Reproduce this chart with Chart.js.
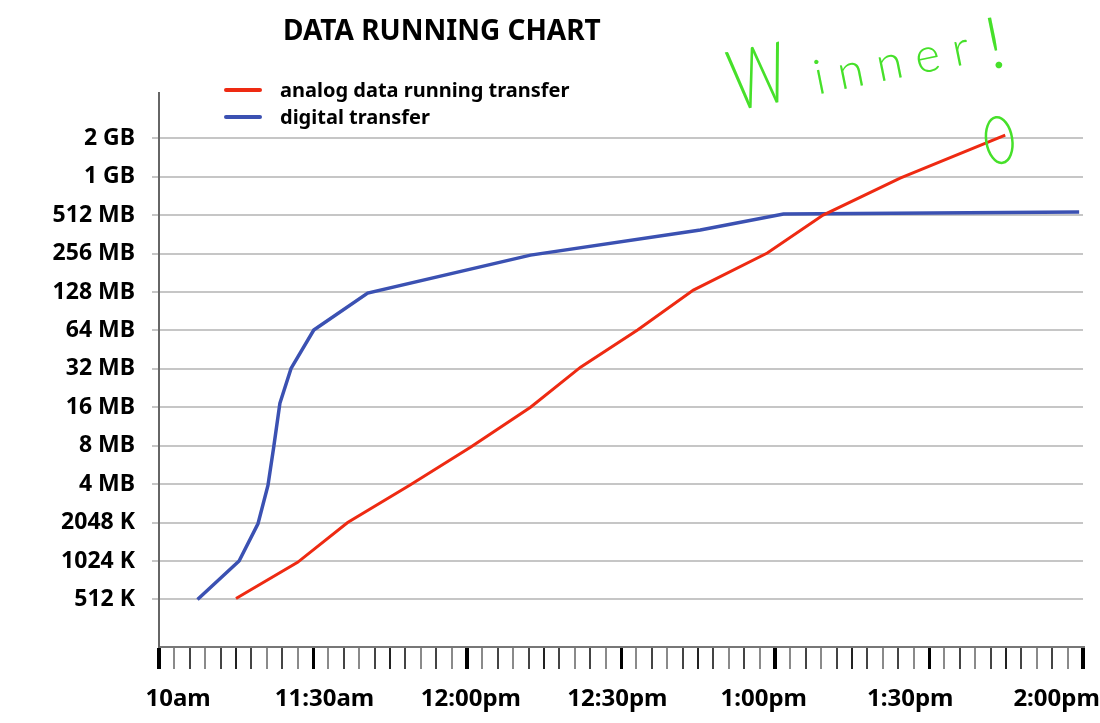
<!DOCTYPE html>
<html>
<head>
<meta charset="utf-8">
<script src="https://cdn.jsdelivr.net/npm/chart.js@4.4.1/dist/chart.umd.min.js"></script>
<style>
  body { margin: 0; background: #fff; overflow: hidden; }
  #wrap { position: relative; width: 1100px; height: 723px; font-family: "Noto Sans", sans-serif; color: #000; }
  #chart { position: absolute; left: 0; top: 0; }
  #title { position: absolute; left: 283px; top: 15px; font-size: 28px; font-weight: 700; line-height: 1; }
  #legend { position: absolute; left: 224px; top: 76px; }
  .item { display: flex; align-items: center; height: 27px; font-size: 20px; font-weight: 700; }
  .swatch { width: 38px; height: 4px; border-radius: 2px; margin-right: 18px; }
</style>
</head>
<body>
<div id="wrap">
  <canvas id="chart" width="1100" height="723"></canvas>
  <div id="title">DATA RUNNING CHART</div>
  <div id="legend"></div>
</div>
<script>
const timeLabels = ['10am', '11:30am', '12:00pm', '12:30pm', '1:00pm', '1:30pm', '2:00pm'];
const sizeTicksKB = [512, 1024, 2048, 4096, 8192, 16384, 32768, 65536, 131072, 262144, 524288, 1048576, 2097152];
const sizeTickLabels = ['512 K', '1024 K', '2048 K', '4 MB', '8 MB', '16 MB', '32 MB', '64 MB', '128 MB', '256 MB', '512 MB', '1 GB', '2 GB'];

const seriesNames = ['analog data running transfer', 'digital transfer'];

// x = minutes after 10am, y = KB transferred
const analogMinutes = [20, 36, 49, 65, 81, 96.5, 109.5, 124.3, 138.8, 158, 172.5, 192.5, 219.8];
const analogKB = [520, 1000, 2050, 4000, 8000, 16400, 33800, 66000, 135700, 264600, 525500, 1024000, 2224000];
const digitalMinutes = [10, 20.8, 25.7, 28.3, 29.8, 31.4, 34.3, 40.2, 54.2, 96.5, 140.6, 162.2, 239];
const digitalKB = [512, 1024, 2000, 4000, 8000, 17600, 33000, 66000, 128600, 255000, 400600, 535000, 554600];

const RED = '#ee2a12';
const BLUE = '#3b51b2';
const GREEN = '#46e02a';
const FONT = '"Noto Sans", sans-serif';

// legend
const legendEl = document.getElementById('legend');
[RED, BLUE].forEach((c, i) => {
  const row = document.createElement('div');
  row.className = 'item';
  row.innerHTML = `<span class="swatch" style="background:${c}"></span><span>${seriesNames[i]}</span>`;
  legendEl.appendChild(row);
});

// the green scribble around the winning point
const winnerNote = {
  id: 'winnerNote',
  afterDatasetsDraw(chart) {
    const pts = chart.getDatasetMeta(0).data;
    const end = pts[pts.length - 1];
    const ctx = chart.ctx;
    ctx.save();
    ctx.strokeStyle = GREEN;
    ctx.fillStyle = GREEN;
    ctx.lineWidth = 2.5;
    ctx.beginPath();
    ctx.ellipse(end.x - 6, end.y + 5, 13, 23, -0.15, 0, Math.PI * 2);
    ctx.stroke();

    ctx.translate(end.x - 270, end.y - 24);
    ctx.rotate(-0.2);
    ctx.textBaseline = 'alphabetic';
    ctx.save();
    ctx.scale(0.68, 1);
    ctx.font = '300 84px Lato';
    ctx.fillText('W', 0, 0);
    ctx.restore();
    ctx.font = '300 48px Lato';
    let x = 84;
    for (const ch of 'inner') {
      ctx.fillText(ch, x, 0);
      x += ctx.measureText(ch).width + 13;
    }
    ctx.font = '300 72px Lato';
    ctx.fillText('!', x + 4, 10);
    ctx.restore();
  }
};

new Chart(document.getElementById('chart'), {
  type: 'line',
  data: {
    datasets: [
      {
        label: seriesNames[0],
        data: analogMinutes.map((m, i) => ({ x: m, y: analogKB[i] })),
        borderColor: RED,
        borderWidth: 3,
        pointRadius: 0,
        tension: 0
      },
      {
        label: seriesNames[1],
        data: digitalMinutes.map((m, i) => ({ x: m, y: digitalKB[i] })),
        borderColor: BLUE,
        borderWidth: 3.5,
        pointRadius: 0,
        tension: 0
      }
    ]
  },
  options: {
    responsive: false,
    animation: false,
    layout: { padding: { top: 93, right: 17, left: 0, bottom: 0 } },
    plugins: {
      legend: { display: false },
      title: { display: false },
      tooltip: { enabled: false }
    },
    scales: {
      x: {
        type: 'linear',
        position: 'bottom',
        weight: 0,
        min: 0,
        max: 240,
        ticks: { display: false, stepSize: 4, autoSkip: false },
        grid: {
          drawOnChartArea: false,
          drawTicks: true,
          tickLength: 22,
          color: c => {
            const i = c.index;
            if (i % 10 === 0) return '#000';
            if (i % 5 === 0) return '#222';
            return i % 2 ? '#8a8a8a' : '#444';
          },
          lineWidth: c => {
            const i = c.index;
            if (i % 20 === 0) return 4;
            if (i % 10 === 0) return 3;
            return 2;
          }
        },
        border: { display: true, color: '#777', width: 2 },
        afterFit: s => { s.paddingLeft = 0; s.paddingRight = 0; }
      },
      xt: {
        type: 'linear',
        position: 'bottom',
        weight: 1,
        min: -0.13,
        max: 6.18,
        grid: { display: false, drawTicks: false },
        border: { display: false },
        ticks: {
          stepSize: 1,
          includeBounds: false,
          autoSkip: false,
          maxRotation: 0,
          padding: 16,
          color: '#000',
          font: { family: FONT, size: 24, weight: 'bold' },
          callback: v => timeLabels[v] ?? ''
        },
        afterFit: s => { s.height = 54; s.paddingLeft = 0; s.paddingRight = 0; }
      },
      y: {
        type: 'logarithmic',
        min: 217,
        max: 4750000,
        afterBuildTicks: s => { s.ticks = sizeTicksKB.map(v => ({ value: v })); },
        afterFit: s => { s.width = 159; },
        ticks: {
          padding: 17,
          color: '#000',
          font: { family: FONT, size: 23, weight: 'bold' },
          callback: v => sizeTickLabels[sizeTicksKB.indexOf(v)] ?? ''
        },
        grid: { color: '#c6c6c6', lineWidth: 2, tickLength: 7 },
        border: { display: true, color: '#666', width: 2 }
      }
    }
  },
  plugins: [winnerNote]
});
</script>
</body>
</html>
